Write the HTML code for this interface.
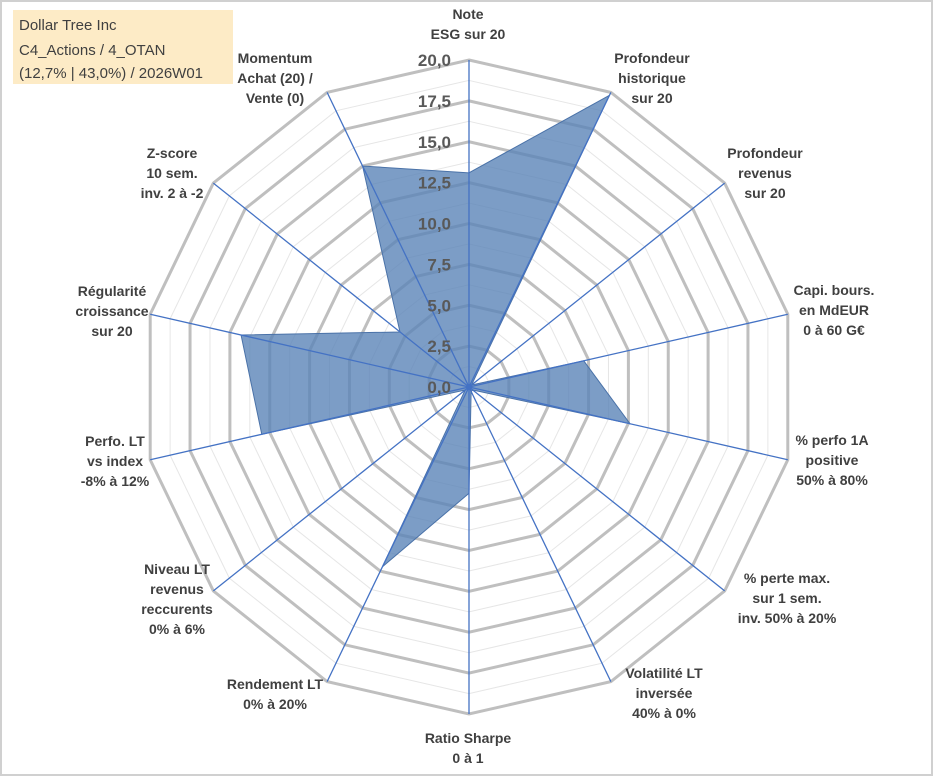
<!DOCTYPE html>
<html><head><meta charset="utf-8"><style>
body{margin:0;background:#fff}
#wrap{position:relative;width:933px;height:776px;overflow:hidden;font-family:"Liberation Sans",sans-serif}
svg text{font-family:"Liberation Sans",sans-serif}
</style></head><body>
<div id="wrap">
<svg id="chart" width="933" height="776">
<rect x="1" y="1" width="931" height="774" fill="#fff" stroke="#d0d0d0" stroke-width="2"/>
<rect x="13" y="10" width="220" height="74" fill="#fdebc6"/>
<text x="19" y="30" font-size="15" fill="#404040">Dollar Tree Inc</text>
<text x="19" y="55" font-size="15" fill="#404040">C4_Actions / 4_OTAN</text>
<text x="19" y="78" font-size="15" fill="#404040">(12,7% | 43,0%) / 2026W01</text>
<g id="grid"></g><g id="series"></g><g id="labels"></g>
</svg>
</div>
<script>
const categories=[["Note","ESG sur 20"],["Profondeur","historique","sur 20"],["Profondeur","revenus","sur 20"],["Capi. bours.","en MdEUR","0 à 60 G€"],["% perfo 1A","positive","50% à 80%"],["% perte max.","sur 1 sem.","inv. 50% à 20%"],["Volatilité LT","inversée","40% à 0%"],["Ratio Sharpe","0 à 1"],["Rendement LT","0% à 20%"],["Niveau LT","revenus","reccurents","0% à 6%"],["Perfo. LT","vs index","-8% à 12%"],["Régularité","croissance","sur 20"],["Z-score","10 sem.","inv. 2 à -2"],["Momentum","Achat (20) /","Vente (0)"]];
const values=[13.1,19.8,0.2,7.2,10.1,0.3,0.3,6.5,12.2,0.3,13,14.3,5.4,15];
const ticks=[0,2.5,5,7.5,10,12.5,15,17.5,20];
const tickLabels=["0,0","2,5","5,0","7,5","10,0","12,5","15,0","17,5","20,0"];
const labelPos=[[468,14],[652,58],[765,153],[834,290],[832,440],[787,578],[664,673],[468,738],[275,684],[177,569],[115,441],[112,291],[172,153],[275,58]];
const NS="http://www.w3.org/2000/svg",cx=469,cy=387,R=327,maxV=20,N=categories.length;
function pt(i,v){const a=i*2*Math.PI/N;const r=v/maxV*R;return [cx+r*Math.sin(a),cy-r*Math.cos(a)];}
function mk(t,attrs,parent){const e=document.createElementNS(NS,t);for(const k in attrs)e.setAttribute(k,attrs[k]);parent.appendChild(e);return e;}
const grid=document.getElementById('grid'),ser=document.getElementById('series'),lab=document.getElementById('labels');
for(let k=1;k<=16;k++){const v=k*1.25;const major=k%2==0;
 const p=[];for(let i=0;i<N;i++)p.push(pt(i,v).join(','));
 const g=mk('polygon',{points:p.join(' '),fill:'none',stroke:major?'#bfbfbf':'#e6e6e6','stroke-width':major?3:1},grid);
 
 }
const poly=[];values.forEach((v,i)=>poly.push(pt(i,v).join(',')));
const s=mk('polygon',{points:poly.join(' '),fill:'#5b84b8','fill-opacity':0.8,stroke:'#4a72a8','stroke-width':1},ser);


for(let i=0;i<N;i++){const [x,y]=pt(i,maxV);
 const l=mk('line',{x1:cx,y1:cy,x2:x,y2:y,stroke:'#4472c4','stroke-width':1.3},ser);
 
 }
const c=mk('circle',{cx:cx,cy:cy,r:3,fill:'#4472c4'},ser);


ticks.forEach((t,j)=>{const y=pt(0,t)[1];
 const tx=mk('text',{x:451,y:y+6,'text-anchor':'end','font-size':17,'font-weight':'bold',fill:'#595959'},lab);
 tx.textContent=tickLabels[j];
 
 });
categories.forEach((lines,i)=>{const [x,y]=labelPos[i];
 const t=mk('text',{x:x,'text-anchor':'middle','font-size':14,'font-weight':'bold',fill:'#404040'},lab);
 
 
 lines.forEach((s,j)=>{const ts=mk('tspan',{x:x,y:y+j*20+5},t);ts.textContent=s;});});
</script>
</body></html>
